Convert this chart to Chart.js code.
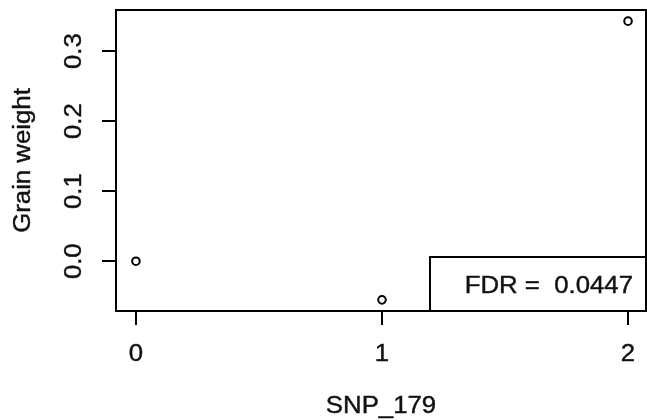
<!DOCTYPE html>
<html>
<head>
<meta charset="utf-8">
<script src="https://cdn.jsdelivr.net/npm/chart.js@4"></script>
<style>
  html, body { margin: 0; padding: 0; background: #fff; overflow: hidden; }
</style>
</head>
<body>
<canvas id="chart" width="647" height="420"></canvas>
<script>
// data
const genotypes = [0, 1, 2];
const grainWeight = [0.0, -0.0552, 0.3428];
const xTicks = [0, 1, 2];
const xTickLabels = ["0", "1", "2"];
const yTicks = [0, 0.1, 0.2, 0.3];
const yTickLabels = ["0.0", "0.1", "0.2", "0.3"];
const xTitle = "SNP_179";
const yTitle = "Grain weight";
const fdrText = "FDR =  0.0447";

// R-ish look: Helvetica a bit wider than Liberation Sans
const FONT = '23px "Liberation Sans", Arial, sans-serif';
const SX = 1.12;

function drawText(ctx, text, x, y, angle, align, baseline) {
    ctx.save();
    ctx.translate(x, y);
    ctx.rotate(angle);
    ctx.scale(SX, 1);
    ctx.font = FONT;
    ctx.fillStyle = '#111';
    ctx.strokeStyle = '#111';
    ctx.lineWidth = 0.4;
    ctx.textAlign = align;
    ctx.textBaseline = baseline;
    ctx.fillText(text, 0, 0);
    ctx.strokeText(text, 0, 0);
    ctx.restore();
}

const rPlot = {
    id: 'rPlot',
    afterDraw: (chart) => {
        const ctx = chart.ctx;
        const { left, top, right, bottom } = chart.chartArea;
        const xs = chart.scales.x;
        const ys = chart.scales.y;

        // plot frame
        ctx.save();
        ctx.strokeStyle = '#000';
        ctx.lineWidth = 2;
        ctx.strokeRect(left, top, right - left, bottom - top);

        // legend box, bottom right
        const bw = 216, bh = 54;
        ctx.fillStyle = '#fff';
        ctx.fillRect(right - bw, bottom - bh, bw, bh);
        ctx.strokeRect(right - bw, bottom - bh, bw, bh);
        ctx.restore();
        drawText(ctx, fdrText, right - 13, bottom - 18, 0, 'right', 'alphabetic');

        // tick labels
        xTicks.forEach((v, i) => {
            drawText(ctx, xTickLabels[i], xs.getPixelForValue(v), 361, 0, 'center', 'alphabetic');
        });
        yTicks.forEach((v, i) => {
            drawText(ctx, yTickLabels[i], 81, ys.getPixelForValue(v), -Math.PI / 2, 'center', 'alphabetic');
        });

        // axis titles
        drawText(ctx, xTitle, (left + right) / 2, 413, 0, 'center', 'alphabetic');
        drawText(ctx, yTitle, 30, (top + bottom) / 2, -Math.PI / 2, 'center', 'alphabetic');
    }
};

new Chart(document.getElementById('chart').getContext('2d'), {
    type: 'scatter',
    data: {
        datasets: [{
            data: genotypes.map((g, i) => ({ x: g, y: grainWeight[i] })),
            pointStyle: 'circle',
            pointRadius: 3.8,
            pointBorderWidth: 2,
            pointBackgroundColor: 'rgba(0,0,0,0)',
            pointBorderColor: '#000',
            showLine: false
        }]
    },
    options: {
        responsive: false,
        devicePixelRatio: 1,
        animation: false,
        layout: { autoPadding: false, padding: { top: 10, right: 1, left: 0, bottom: 0 } },
        plugins: {
            legend: { display: false },
            tooltip: { enabled: false }
        },
        scales: {
            x: {
                type: 'linear',
                min: -0.081,
                max: 2.073,
                afterBuildTicks: s => { s.ticks = xTicks.map(v => ({ value: v })); },
                afterFit: s => { s.height = 109; },
                ticks: { display: false },
                border: { display: false },
                grid: {
                    drawOnChartArea: false,
                    drawTicks: true,
                    tickLength: 14,
                    color: '#000',
                    lineWidth: 2
                }
            },
            y: {
                type: 'linear',
                min: -0.0711,
                max: 0.3587,
                afterBuildTicks: s => { s.ticks = yTicks.map(v => ({ value: v })); },
                afterFit: s => { s.width = 116; },
                ticks: { display: false },
                border: { display: false },
                grid: {
                    drawOnChartArea: false,
                    drawTicks: true,
                    tickLength: 14,
                    color: '#000',
                    lineWidth: 2
                }
            }
        }
    },
    plugins: [rPlot]
});
</script>
</body>
</html>
